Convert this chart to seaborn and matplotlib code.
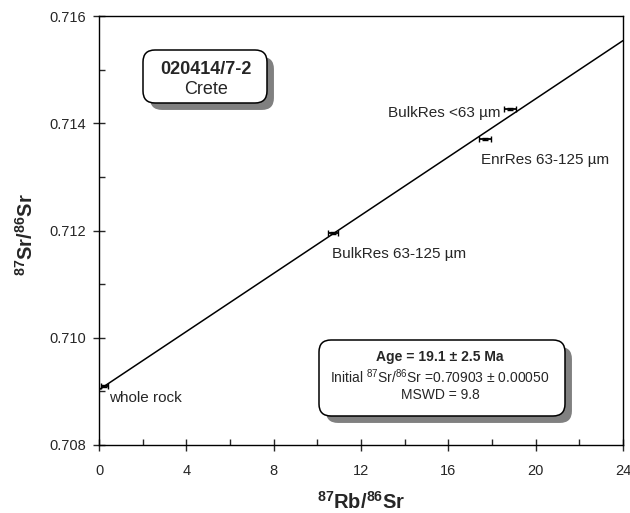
import matplotlib
matplotlib.use("Agg")
import matplotlib.pyplot as plt
import matplotlib.patheffects as pe
from matplotlib.patches import FancyBboxPatch
from matplotlib.ticker import MultipleLocator, FormatStrFormatter
import pandas as pd
import seaborn as sns

# ---- data ----
labels = ["whole rock", "BulkRes 63-125 µm", "EnrRes 63-125 µm", "BulkRes <63 µm"]
rb_sr = [0.25, 10.73, 17.67, 18.83]
sr_sr = [0.70910, 0.71196, 0.71370, 0.71427]
rb_err = [0.15, 0.22, 0.27, 0.28]
sr_err = [0.00002, 0.00002, 0.00002, 0.00002]
intercept = 0.70903
slope = 0.0002713
line_x = [0.0, 24.0]
x_ticks = [0, 4, 8, 12, 16, 20, 24]
y_ticks = [0.708, 0.710, 0.712, 0.714, 0.716]

sns.set_style("ticks")
plt.rcParams["font.family"] = ["Liberation Sans", "DejaVu Sans"]
plt.rcParams["mathtext.fontset"] = "custom"
plt.rcParams["mathtext.rm"] = "Liberation Sans"
plt.rcParams["mathtext.bf"] = "Liberation Sans:bold"
plt.rcParams["mathtext.it"] = "Liberation Sans:italic"

W, H = 630, 513
fig = plt.figure(figsize=(W / 100, H / 100), dpi=100)
AX_L, AX_R, AX_T, AX_B = 99, 623, 16, 445
aw, ah = AX_R - AX_L, AX_B - AX_T
ax = fig.add_axes([AX_L / W, (H - AX_B) / H, aw / W, ah / H])

df_line = pd.DataFrame({"x": line_x, "y": [intercept + slope * v for v in line_x]})
sns.lineplot(data=df_line, x="x", y="y", ax=ax, color="black", lw=1.1)

ax.errorbar(rb_sr, sr_sr, xerr=rb_err, yerr=sr_err, fmt="none", ecolor="black",
            elinewidth=1.3, capsize=2.5, capthick=1.0, zorder=3)

ax.set_xlim(x_ticks[0], x_ticks[-1])
ax.set_ylim(y_ticks[0], y_ticks[-1])
ax.set_xticks(x_ticks)
ax.set_yticks(y_ticks)
ax.xaxis.set_minor_locator(MultipleLocator(2))
ax.yaxis.set_minor_locator(MultipleLocator(0.001))
ax.yaxis.set_major_formatter(FormatStrFormatter("%.3f"))
ax.tick_params(which="major", direction="inout", length=9, width=1.0, labelsize=10.5, pad=5)
ax.tick_params(axis="x", which="major", pad=9)
ax.tick_params(which="minor", direction="in", length=4, width=1.0)
for s in ax.spines.values():
    s.set_linewidth(1.0)
    s.set_color("black")

ax.set_xlabel(r"$\mathbf{^{87}Rb/^{86}Sr}$", fontsize=14.5, va="center")
ax.xaxis.set_label_coords(0.5, (AX_B - 502) / ah)
ax.set_ylabel(r"$\mathbf{^{87}Sr/^{86}Sr}$", fontsize=14.5, va="center")
ax.yaxis.set_label_coords((26 - AX_L) / aw, 0.49)

# point labels
ax.text(0.46, 0.70888, labels[0], fontsize=11, ha="left", va="center")
ax.text(10.67, 0.71156, labels[1], fontsize=11, ha="left", va="center")
ax.text(17.50, 0.71331, labels[2], fontsize=11, ha="left", va="center")
ax.text(18.37, 0.71419, labels[3], fontsize=11, ha="right", va="center")

shadow = [pe.SimplePatchShadow(offset=(5, -5), shadow_rgbFace="#808080", alpha=1.0), pe.Normal()]

def rbox(px0, py0, px1, py1):
    x0 = (px0 - AX_L) / aw
    x1 = (px1 - AX_L) / aw
    y0 = (AX_B - py1) / ah
    y1 = (AX_B - py0) / ah
    p = FancyBboxPatch((x0, y0), x1 - x0, y1 - y0,
                       boxstyle="round,pad=0,rounding_size=%f" % (12 / aw),
                       transform=ax.transAxes, fc="white", ec="black", lw=1.1, zorder=4,
                       mutation_aspect=aw / ah)
    p.set_path_effects(shadow)
    ax.add_patch(p)

def ptext(px, py, s, **kw):
    ax.text((px - AX_L) / aw, (AX_B - py) / ah, s, transform=ax.transAxes,
            ha="center", va="center", zorder=5, **kw)

rbox(143, 50, 267, 103)
ptext(206, 69, "020414/7-2", fontsize=13, fontweight="bold")
ptext(206, 90, "Crete", fontsize=13)

rbox(319, 340, 565, 416)
ptext(440, 357, "Age = 19.1 ± 2.5 Ma", fontsize=10, fontweight="bold")
ptext(440, 377, r"Initial $^{87}$Sr/$^{86}$Sr =0.70903 ± 0.00050", fontsize=10)
ptext(440, 395, "MSWD = 9.8", fontsize=10)

fig.savefig("out.png", dpi=100)
